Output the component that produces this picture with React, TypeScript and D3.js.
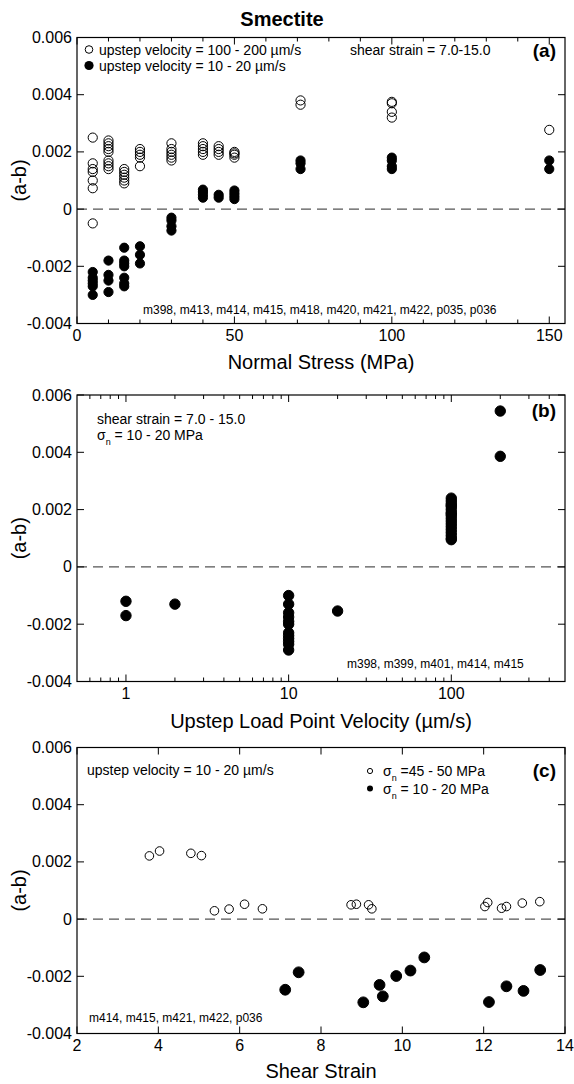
import { useEffect, useRef } from 'react'
import * as d3 from 'd3'

const FONT = '"Liberation Sans", Arial, Helvetica, sans-serif'

// (a) (a-b) against normal stress, grouped by stress level
const normalStress = [5, 10, 15, 20, 30, 40, 45, 50, 71, 100, 150]
const fastUpstepAB = [
  [0.0025, 0.0016, 0.0014, 0.0013, 0.001, 0.00073, -0.0005],
  [0.0024, 0.0023, 0.0022, 0.0021, 0.002, 0.0017, 0.0016, 0.0015, 0.0014],
  [0.0014, 0.0013, 0.0012, 0.0011, 0.001, 0.0009],
  [0.0021, 0.002, 0.0019, 0.0018, 0.0015],
  [0.0023, 0.0021, 0.002, 0.0019, 0.0018, 0.0017],
  [0.0023, 0.0022, 0.0021, 0.002, 0.0019],
  [0.0022, 0.0021, 0.002, 0.0019],
  [0.002, 0.00195, 0.0019, 0.0018],
  [0.0038, 0.00365],
  [0.00375, 0.0037, 0.0034, 0.0032],
  [0.00277],
]
const slowUpstepAB = [
  [-0.0022, -0.0024, -0.0025, -0.0026, -0.0027, -0.003],
  [-0.0018, -0.0023, -0.0025, -0.0029],
  [-0.00135, -0.0018, -0.0019, -0.002, -0.0024, -0.0026, -0.0027],
  [-0.0013, -0.0016, -0.0019],
  [-0.0003, -0.0004, -0.0006, -0.00075],
  [0.00068, 0.0006, 0.0005, 0.0004],
  [0.0005, 0.0004],
  [0.00065, 0.00055, 0.00045, 0.00035],
  [0.0017, 0.0016, 0.0014],
  [0.0018, 0.0017, 0.0015, 0.0014],
  [0.0017, 0.0014],
]

// (b) (a-b) against upstep load point velocity
const velocity = [1, 2, 10, 20, 100, 200]
const velocityAB = [
  [-0.0012, -0.0017],
  [-0.0013],
  [-0.001, -0.0013, -0.0016, -0.00175, -0.0019, -0.002, -0.0023, -0.0024, -0.0025, -0.0026, -0.0027, -0.0029],
  [-0.00154],
  [0.0024, 0.0023, 0.0022, 0.00215, 0.0021, 0.002, 0.0019, 0.00185, 0.0018, 0.0017, 0.0016, 0.0015, 0.0014, 0.0013, 0.0012, 0.0011, 0.001, 0.00095],
  [0.00544, 0.00386],
]

// (c) (a-b) against shear strain
const strainHighSn = [3.78, 4.03, 4.8, 5.06, 5.38, 5.74, 6.12, 6.56, 8.74, 8.87, 9.17, 9.25, 12.03, 12.1, 12.44, 12.56, 12.95, 13.38]
const abHighSn = [0.00221, 0.00238, 0.0023, 0.00222, 0.00029, 0.00035, 0.00052, 0.00036, 0.0005, 0.00052, 0.0005, 0.00036, 0.00044, 0.00058, 0.00038, 0.00044, 0.00056, 0.00061]
const strainLowSn = [7.12, 7.45, 9.04, 9.44, 9.52, 9.85, 10.2, 10.54, 12.13, 12.56, 12.98, 13.39]
const abLowSn = [-0.00247, -0.00186, -0.00291, -0.0023, -0.0027, -0.00199, -0.0018, -0.00134, -0.0029, -0.00235, -0.00251, -0.00178]

const abTicks = [-0.004, -0.002, 0, 0.002, 0.004, 0.006]
const abLabels = ['-0.004', '-0.002', '0', '0.002', '0.004', '0.006']

const LEFT = 77
const RIGHT = 565

function frame(svg, x, y, top, bottom, major, minor, labels, xTitle, xTitleY) {
  const g = svg.append('g')
  const tickLen = 7
  const minLen = 4

  // dashed zero line
  g.append('line')
    .attr('x1', LEFT).attr('x2', RIGHT)
    .attr('y1', y(0)).attr('y2', y(0))
    .attr('stroke', '#555').attr('stroke-width', 1.2)
    .attr('stroke-dasharray', '10,6')

  g.append('rect')
    .attr('x', LEFT).attr('y', top)
    .attr('width', RIGHT - LEFT).attr('height', bottom - top)
    .attr('fill', 'none').attr('stroke', '#000').attr('stroke-width', 1.2)

  const ticks = (vals, len) => {
    vals.forEach(v => {
      const px = x(v)
      g.append('line').attr('x1', px).attr('x2', px).attr('y1', bottom).attr('y2', bottom - len)
        .attr('stroke', '#000')
      g.append('line').attr('x1', px).attr('x2', px).attr('y1', top).attr('y2', top + len)
        .attr('stroke', '#000')
    })
  }
  ticks(major, tickLen)
  ticks(minor, minLen)

  abTicks.forEach(v => {
    g.append('line').attr('x1', LEFT).attr('x2', LEFT + tickLen).attr('y1', y(v)).attr('y2', y(v)).attr('stroke', '#000')
    g.append('line').attr('x1', RIGHT).attr('x2', RIGHT - tickLen).attr('y1', y(v)).attr('y2', y(v)).attr('stroke', '#000')
  })

  g.selectAll('.ylab').data(abTicks).enter().append('text')
    .attr('x', LEFT - 5).attr('y', d => y(d) + 5.5)
    .attr('text-anchor', 'end').attr('font-size', 16)
    .text((d, i) => abLabels[i])

  g.selectAll('.xlab').data(major).enter().append('text')
    .attr('x', d => x(d)).attr('y', bottom + 17)
    .attr('text-anchor', 'middle').attr('font-size', 16)
    .text((d, i) => labels[i])

  g.append('text')
    .attr('x', (LEFT + RIGHT) / 2).attr('y', xTitleY)
    .attr('text-anchor', 'middle').attr('font-size', 20)
    .text(xTitle)

  g.append('text')
    .attr('transform', `translate(26,${(top + bottom) / 2}) rotate(-90)`)
    .attr('text-anchor', 'middle').attr('font-size', 20)
    .text('(a-b)')
}

function dots(svg, pts, x, y, r, filled) {
  svg.append('g').selectAll('circle').data(pts).enter().append('circle')
    .attr('cx', d => x(d[0])).attr('cy', d => y(d[1]))
    .attr('r', r)
    .attr('fill', filled ? '#000' : 'none')
    .attr('stroke', '#000').attr('stroke-width', 1)
}

function sigmaLabel(svg, px, py, rest) {
  const t = svg.append('text').attr('x', px).attr('y', py).attr('font-size', 14)
  t.append('tspan').text('σ')
  t.append('tspan').attr('font-size', 9).attr('dy', 5).text('n')
  t.append('tspan').attr('dy', -5).text(rest)
}

export default function App() {
  const ref = useRef(null)

  useEffect(() => {
    const svg = d3.select(ref.current)
    svg.selectAll('*').remove()
    svg.attr('font-family', FONT)

    svg.append('text')
      .attr('x', 282).attr('y', 26)
      .attr('text-anchor', 'middle').attr('font-size', 20).attr('font-weight', 'bold')
      .text('Smectite')

    // ---- (a) ----
    const xa = d3.scaleLinear().domain([0, 155]).range([LEFT, RIGHT])
    const ya = d3.scaleLinear().domain([-0.004, 0.006]).range([323.5, 37.5])
    frame(svg, xa, ya, 37.5, 323.5, [0, 50, 100, 150],
      [10, 20, 30, 40, 60, 70, 80, 90, 110, 120, 130, 140], ['0', '50', '100', '150'],
      'Normal Stress (MPa)', 369)
    const fastPts = normalStress.flatMap((s, i) => fastUpstepAB[i].map(v => [s, v]))
    const slowPts = normalStress.flatMap((s, i) => slowUpstepAB[i].map(v => [s, v]))
    dots(svg, fastPts, xa, ya, 4.6, false)
    dots(svg, slowPts, xa, ya, 4.6, true)

    svg.append('circle').attr('cx', 89).attr('cy', 49.5).attr('r', 3.8)
      .attr('fill', 'none').attr('stroke', '#000')
    svg.append('circle').attr('cx', 89).attr('cy', 65.5).attr('r', 4.6)
    svg.append('text').attr('x', 99).attr('y', 54.5).attr('font-size', 14)
      .text('upstep velocity = 100 - 200 µm/s')
    svg.append('text').attr('x', 99).attr('y', 70.5).attr('font-size', 14)
      .text('upstep velocity = 10 - 20 µm/s')
    svg.append('text').attr('x', 350).attr('y', 54.5).attr('font-size', 14)
      .text('shear strain = 7.0-15.0')
    svg.append('text').attr('x', 556).attr('y', 57).attr('text-anchor', 'end')
      .attr('font-size', 19).attr('font-weight', 'bold').text('(a)')
    svg.append('text').attr('x', 143).attr('y', 314).attr('font-size', 12)
      .text('m398, m413, m414, m415, m418, m420, m421, m422, p035, p036')

    // ---- (b) ----
    const xb = d3.scaleLog().domain([0.5, 500]).range([LEFT, RIGHT])
    const yb = d3.scaleLinear().domain([-0.004, 0.006]).range([681.5, 395])
    const minorB = [0.6, 0.7, 0.8, 0.9, 2, 3, 4, 5, 6, 7, 8, 9, 20, 30, 40, 50, 60, 70, 80, 90, 200, 300, 400]
    frame(svg, xb, yb, 395, 681.5, [1, 10, 100], minorB, ['1', '10', '100'],
      'Upstep Load Point Velocity (µm/s)', 728)
    const velPts = velocity.flatMap((v, i) => velocityAB[i].map(ab => [v, ab]))
    dots(svg, velPts, xb, yb, 5.2, true)

    svg.append('text').attr('x', 97).attr('y', 423.5).attr('font-size', 14)
      .text('shear strain = 7.0 - 15.0')
    sigmaLabel(svg, 97, 440, ' = 10 - 20 MPa')
    svg.append('text').attr('x', 556).attr('y', 417).attr('text-anchor', 'end')
      .attr('font-size', 19).attr('font-weight', 'bold').text('(b)')
    svg.append('text').attr('x', 347).attr('y', 668).attr('font-size', 12)
      .text('m398, m399, m401, m414, m415')

    // ---- (c) ----
    const xc = d3.scaleLinear().domain([2, 14]).range([LEFT, RIGHT])
    const yc = d3.scaleLinear().domain([-0.004, 0.006]).range([1033.5, 747.5])
    frame(svg, xc, yc, 747.5, 1033.5, [2, 4, 6, 8, 10, 12, 14], [],
      ['2', '4', '6', '8', '10', '12', '14'], 'Shear Strain', 1078)
    dots(svg, strainHighSn.map((s, i) => [s, abHighSn[i]]), xc, yc, 4.3, false)
    dots(svg, strainLowSn.map((s, i) => [s, abLowSn[i]]), xc, yc, 5.4, true)

    svg.append('text').attr('x', 87).attr('y', 775).attr('font-size', 14)
      .text('upstep velocity = 10 - 20 µm/s')
    svg.append('circle').attr('cx', 370).attr('cy', 771).attr('r', 2.6)
      .attr('fill', 'none').attr('stroke', '#000')
    svg.append('circle').attr('cx', 370).attr('cy', 788.5).attr('r', 3)
    sigmaLabel(svg, 383, 775.5, ' =45 - 50 MPa')
    sigmaLabel(svg, 383, 793.5, ' = 10 - 20 MPa')
    svg.append('text').attr('x', 556).attr('y', 777).attr('text-anchor', 'end')
      .attr('font-size', 19).attr('font-weight', 'bold').text('(c)')
    svg.append('text').attr('x', 89).attr('y', 1022).attr('font-size', 12)
      .text('m414, m415, m421, m422, p036')
  }, [])

  return (
    <svg ref={ref} width={574} height={1084}
      style={{ position: 'absolute', left: 0, top: 0, background: '#fff' }} />
  )
}
